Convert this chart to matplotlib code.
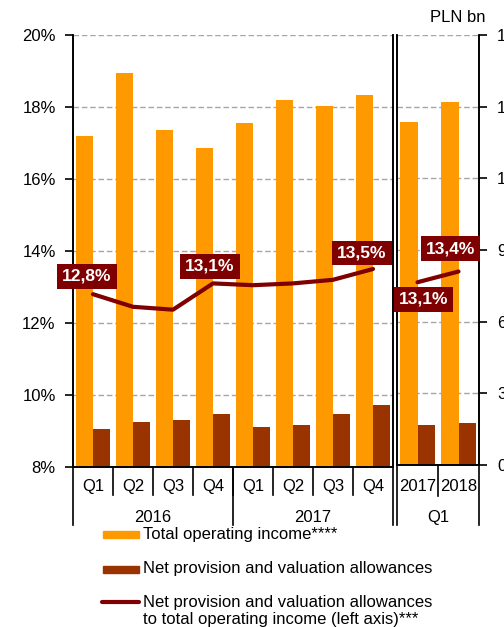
import matplotlib
matplotlib.use("Agg")
import matplotlib.pyplot as plt
import numpy as np
from matplotlib.patches import Rectangle
from matplotlib.lines import Line2D

plt.rcParams["font.family"] = ["Liberation Sans", "DejaVu Sans"]
plt.rcParams["font.size"] = 12

# --- data ---
quarters = ["Q1", "Q2", "Q3", "Q4", "Q1", "Q2", "Q3", "Q4"]
years = ["2016", "2017"]
income = [13.8, 16.4, 14.05, 13.3, 14.35, 15.3, 15.05, 15.5]          # PLN bn
provisions = [1.59, 1.88, 1.95, 2.2, 1.67, 1.76, 2.2, 2.6]             # PLN bn
ratio = [12.8, 12.45, 12.37, 13.1, 13.05, 13.1, 13.2, 13.5]            # %
ratio_labelled = [0, 3, 7]

q1_years = ["2017", "2018"]
q1_income = [14.35, 15.2]
q1_provisions = [1.67, 1.76]
q1_ratio = [13.1, 13.4]

legend_labels = ["Total operating income****",
                 "Net provision and valuation allowances",
                 "Net provision and valuation allowances\nto total operating income (left axis)***"]

ORANGE = "#FF9900"
BROWN = "#993300"
DARKRED = "#7F0000"
GRID = "#A6A6A6"

W, H = 504, 627
fig = plt.figure(figsize=(W / 100, H / 100), dpi=100)


def fx(px):
    return px / W


def fy(py):
    return 1 - py / H


def pct_label(v):
    return f"{v:.1f}".replace(".", ",") + "%"


def style_axes(ax):
    ax.spines["top"].set_visible(False)
    for side in ["left", "right", "bottom"]:
        ax.spines[side].set_color("black")
        ax.spines[side].set_linewidth(1.2)
    ax.set_xticks([])


def draw_boxlabel(ax, x, y, v, dx, dy):
    ax.annotate(pct_label(v), xy=(x, y), xytext=(dx, dy), textcoords="offset pixels",
                ha="center", va="center", color="white", fontweight="bold", fontsize=12.5,
                bbox=dict(boxstyle="square,pad=0.28", fc=DARKRED, ec="none"), zorder=10,
                annotation_clip=False)


# --- panel 1: 2016-2017 quarters ---
ax1 = fig.add_axes([fx(73), fy(467), fx(320), 432 / H])
x = np.arange(len(quarters))
ax1.bar(x - 0.21, income, width=0.42, color=ORANGE, zorder=2)
ax1.bar(x + 0.21, provisions, width=0.42, color=BROWN, zorder=2)
ax1.set_xlim(-0.5, len(quarters) - 0.5)
ax1.set_ylim(0, 18)
ax1.set_yticks(np.arange(0, 19, 3))
ax1.yaxis.grid(True, color=GRID, linestyle=(0, (4, 2)), linewidth=1, zorder=0)
ax1.set_axisbelow(True)
style_axes(ax1)

ax1l = ax1.twinx()
ax1.tick_params(axis="y", left=False, right=False, labelleft=False, labelright=False)
ax1l.yaxis.set_ticks_position("left")
ax1l.set_ylim(8, 20)
ax1l.set_yticks(np.arange(8, 21, 2))
ax1l.set_yticklabels([f"{t}%" for t in range(8, 21, 2)])
ax1l.tick_params(axis="y", direction="out", length=6, width=1.2, pad=6.5)
ax1l.plot(x, ratio, color=DARKRED, linewidth=3, solid_capstyle="round", zorder=5)
style_axes(ax1l)
offsets1 = {0: (-6, 18), 3: (-3, 17), 7: (-11, 16)}
for i in ratio_labelled:
    draw_boxlabel(ax1l, x[i], ratio[i], ratio[i], *offsets1[i])

# category labels and separators below panel 1
t1 = ax1.get_xaxis_transform()
for i, q in enumerate(quarters):
    ax1.text(i, -0.046, q, transform=t1, ha="center", va="center")
for b in np.arange(0.5, len(quarters) - 0.5):
    ax1.plot([b, b], [0, -0.065], transform=t1, color="black", lw=1.2, clip_on=False)
for b in [-0.5, 3.5, 7.5]:
    ax1.plot([b, b], [0, -0.134], transform=t1, color="black", lw=1.2, clip_on=False)
for k, yr in enumerate(years):
    ax1.text(1.5 + 4 * k, -0.116, yr, transform=t1, ha="center", va="center")

# --- panel 2: Q1 2017 vs Q1 2018 ---
ax2 = fig.add_axes([fx(397), fy(465), fx(82), 430 / H])
x2 = np.arange(len(q1_years))
ax2.bar(x2 - 0.21, q1_income, width=0.42, color=ORANGE, zorder=2)
ax2.bar(x2 + 0.21, q1_provisions, width=0.42, color=BROWN, zorder=2)
ax2.set_xlim(-0.5, len(q1_years) - 0.5)
ax2.set_ylim(0, 18)
ax2.set_yticks(np.arange(0, 19, 3))
ax2.yaxis.grid(True, color=GRID, linestyle=(0, (4, 2)), linewidth=1, zorder=0)
ax2.set_axisbelow(True)
style_axes(ax2)

ax2l = ax2.twinx()
ax2l.set_ylim(8, 20)
ax2l.tick_params(axis="y", left=False, right=False, labelleft=False, labelright=False)
ax2l.plot(x2, q1_ratio, color=DARKRED, linewidth=3, solid_capstyle="round", zorder=5)
style_axes(ax2l)
# twinx moves the host ticks to the left, so put them back on the right
ax2.yaxis.tick_right()
ax2.tick_params(axis="y", left=False, labelleft=False, right=True, labelright=True,
                direction="out", length=6, width=1.2, pad=7)
offsets2 = [(6, -17), (-8, 23)]
for i, v in enumerate(q1_ratio):
    draw_boxlabel(ax2l, x2[i], v, v, *offsets2[i])

t2 = ax2.get_xaxis_transform()
for i, yr in enumerate(q1_years):
    ax2.text(i, -0.05, yr, transform=t2, ha="center", va="center")
ax2.plot([0.5, 0.5], [0, -0.072], transform=t2, color="black", lw=1.2, clip_on=False)
for b in [-0.5, 1.5]:
    ax2.plot([b, b], [0, -0.14], transform=t2, color="black", lw=1.2, clip_on=False)
ax2.text(0.5, -0.121, "Q1", transform=t2, ha="center", va="center")

fig.text(fx(458), fy(18), "PLN bn", ha="center", va="center")

# --- legend drawn by hand ---
fig.add_artist(Rectangle((fx(103), fy(538)), fx(36), 7 / H, transform=fig.transFigure,
                         color=ORANGE))
fig.add_artist(Rectangle((fx(103), fy(573)), fx(36), 7 / H, transform=fig.transFigure,
                         color=BROWN))
fig.add_artist(Line2D([fx(102), fx(139)], [fy(602), fy(602)], transform=fig.transFigure,
                      color=DARKRED, lw=3, solid_capstyle="round"))
fig.text(fx(143), fy(535), legend_labels[0], va="center")
fig.text(fx(143), fy(569), legend_labels[1], va="center")
fig.text(fx(143), fy(611), legend_labels[2], va="center", linespacing=1.15)

fig.savefig("out.png", dpi=100)
